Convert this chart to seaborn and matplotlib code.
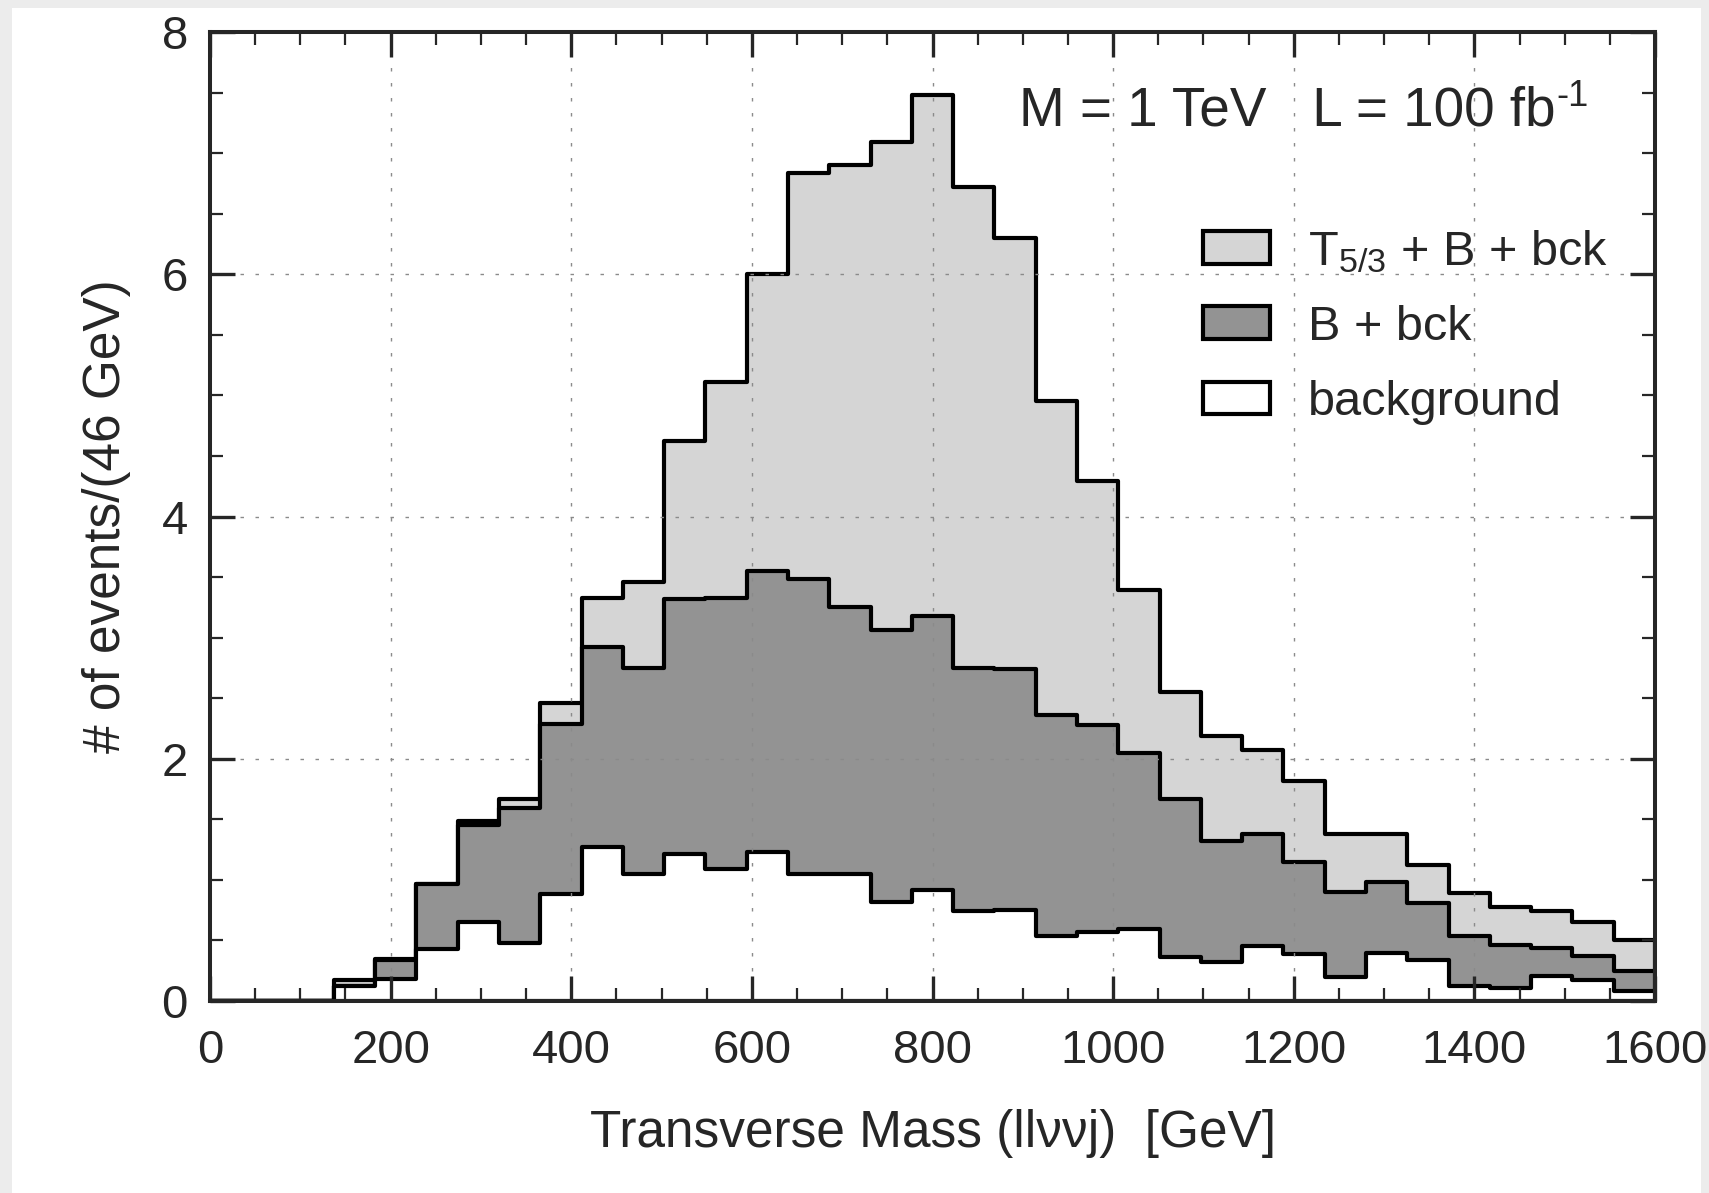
import numpy as np
import pandas as pd
import matplotlib
matplotlib.use("Agg")
import matplotlib.pyplot as plt
from matplotlib.patches import Patch, Rectangle
from matplotlib.ticker import MultipleLocator
import seaborn as sns

# ---------------- data ----------------
x_min, x_max, n_bins = 0, 1600, 35
bin_edges = np.linspace(x_min, x_max, n_bins + 1)
bin_centers = 0.5 * (bin_edges[:-1] + bin_edges[1:])

total_T53_B_bck = [0, 0, 0, 0.17, 0.35, 0.97, 1.49, 1.67, 2.46, 3.33, 3.46, 4.62,
                   5.11, 6.00, 6.84, 6.90, 7.09, 7.48, 6.72, 6.30, 4.95, 4.29,
                   3.39, 2.55, 2.19, 2.07, 1.82, 1.38, 1.38, 1.12, 0.89, 0.78,
                   0.74, 0.65, 0.50]
B_bck = [0, 0, 0, 0.125, 0.34, 0.97, 1.45, 1.59, 2.29, 2.92, 2.75, 3.32,
         3.33, 3.55, 3.48, 3.25, 3.06, 3.18, 2.75, 2.74, 2.36, 2.28,
         2.05, 1.665, 1.32, 1.38, 1.145, 0.90, 0.98, 0.81, 0.54, 0.46,
         0.44, 0.37, 0.25]
background = [0, 0, 0, 0.12, 0.18, 0.43, 0.65, 0.48, 0.88, 1.27, 1.05, 1.21,
              1.09, 1.23, 1.05, 1.05, 0.815, 0.92, 0.74, 0.75, 0.54, 0.57,
              0.595, 0.366, 0.325, 0.45, 0.39, 0.20, 0.40, 0.34, 0.12, 0.105,
              0.21, 0.17, 0.085]

series_labels = [r"T$_{5/3}$ + B + bck", "B + bck", "background"]
series_colors = ["#d5d5d5", "#939393", "#ffffff"]

x_ticks = [0, 200, 400, 600, 800, 1000, 1200, 1400, 1600]
y_ticks = [0, 2, 4, 6, 8]

df = pd.DataFrame({
    "mt": np.tile(bin_centers, 3),
    "events": np.concatenate([total_T53_B_bck, B_bck, background]),
    "series": np.repeat(series_labels, n_bins),
})

# ---------------- style ----------------
sns.set_style("ticks")
plt.rcParams["font.family"] = ["Liberation Sans", "DejaVu Sans"]
plt.rcParams["mathtext.default"] = "regular"

W, H = 1709, 1193
fig = plt.figure(figsize=(W / 100, H / 100), dpi=100)
fig.patch.set_facecolor("#ececec")
fig.add_artist(Rectangle((12 / W, 0), (1701 - 12) / W, 1 - 8 / H,
                         transform=fig.transFigure, facecolor="white",
                         edgecolor="none", zorder=-10))

ax = fig.add_axes([210 / W, 1 - 1001 / H, (1655 - 210) / W, (1001 - 32) / H])
ax.set_facecolor("white")

LW = 3.0
for lab, col in zip(series_labels, series_colors):
    sub = df[df["series"] == lab].reset_index(drop=True)
    sns.histplot(data=sub, x="mt", weights="events", bins=n_bins,
                 binrange=(x_min, x_max),
                 element="step", fill=True, color=col, alpha=1,
                 edgecolor="black", linewidth=LW, ax=ax, zorder=1)

ax.set_xlim(x_min, x_max)
ax.set_ylim(0, 8)
ax.set_xticks(x_ticks)
ax.set_yticks(y_ticks)
ax.xaxis.set_minor_locator(MultipleLocator(50))
ax.yaxis.set_minor_locator(MultipleLocator(0.5))

ax.tick_params(which="both", direction="in", top=True, right=True,
               labelsize=34)
ax.tick_params(which="major", length=18, width=2.4)
ax.tick_params(which="minor", length=9.4, width=1.6)
ax.tick_params(axis="x", which="major", pad=20)
ax.tick_params(axis="y", which="major", pad=16)
for sp in ax.spines.values():
    sp.set_linewidth(2.9)
    sp.set_zorder(5)

ax.set_axisbelow(False)
ax.grid(True, which="major", color="#8a8a8a", linewidth=1.0,
        linestyle=(0, (2.5, 8.3)))

ax.set_xlabel("Transverse Mass (ll\u03bd\u03bdj)  [GeV]", fontsize=37, labelpad=26)
ax.set_ylabel("# of events/(46 GeV)", fontsize=37, labelpad=22)

main_txt = fig.text(1019 / W, 1 - 125 / H, "M = 1 TeV   L = 100 fb",
                    fontsize=39.5, ha="left", va="baseline")
fig.canvas.draw()
bb = main_txt.get_window_extent(renderer=fig.canvas.get_renderer())
fig.text(bb.x1 / W + 1 / W, 1 - 125 / H + 19 / H, "-1",
         fontsize=26, ha="left", va="baseline")

handles = [Patch(facecolor=c, edgecolor="black", linewidth=LW)
           for c in series_colors]
leg = ax.legend(handles, series_labels, loc="upper left",
                bbox_to_anchor=(1203 / W, 1 - 228 / H),
                bbox_transform=fig.transFigure, frameon=False, fontsize=35,
                handlelength=1.38, handleheight=0.66, handletextpad=0.78,
                labelspacing=0.62, borderpad=0, borderaxespad=0)

fig.savefig("out.png", dpi=100, facecolor=fig.get_facecolor())
